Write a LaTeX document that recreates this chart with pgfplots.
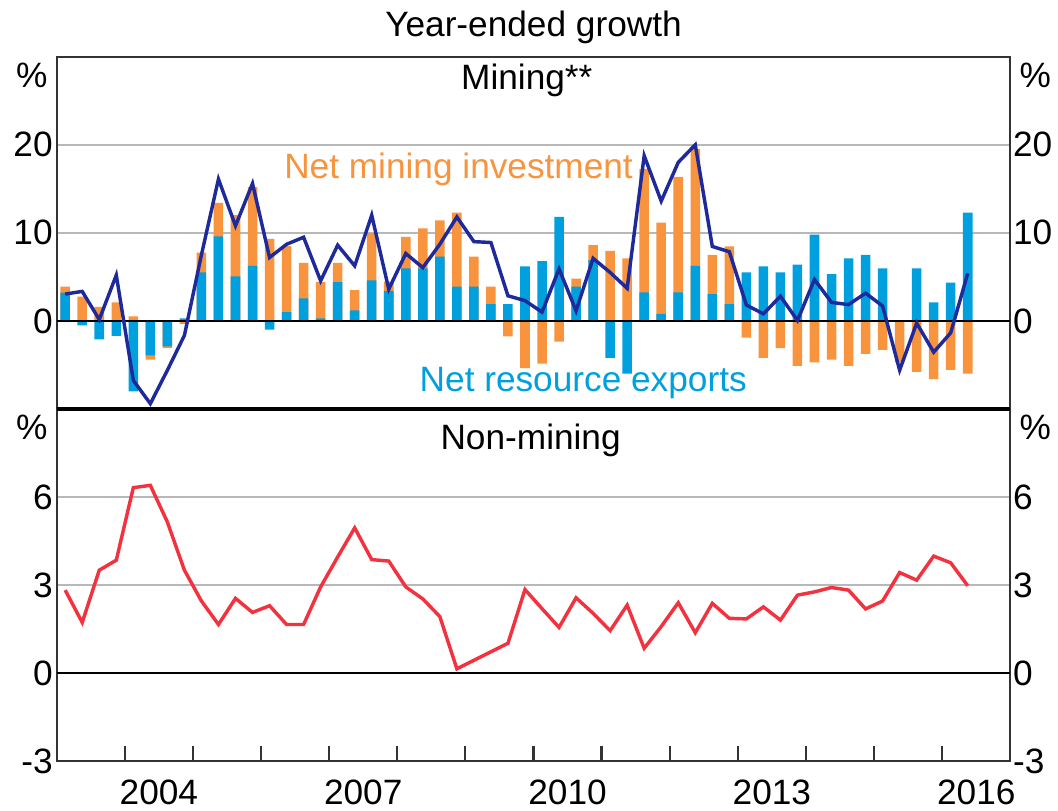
\documentclass[border=0pt]{standalone}
\usepackage{fontspec}
\setmainfont{Liberation Sans}
\usepackage{pgfplots}
\usepackage{pgfplotstable}
\pgfplotsset{compat=1.18}

\definecolor{minvest}{HTML}{F7943D}
\definecolor{mexport}{HTML}{00A0DF}
\definecolor{mline}{HTML}{1F2A9A}
\definecolor{nmline}{HTML}{F2333F}
\definecolor{gridgray}{HTML}{B8B8B8}
\newcommand\chartfont{\fontsize{13.3}{15}\selectfont}

% quarterly, year-ended growth; orange/blue = bar extents of each component
\pgfplotstableread{
date     orange blue  mining nonmining
2003.125  3.9   3.2    3.05  2.83
2003.375  2.75 -0.5    3.35  1.73
2003.625  1.6  -2.1    0.15  3.51
2003.875  2.1  -1.7    5.2   3.85
2004.125  0.5  -8.0   -6.75  6.32
2004.375 -4.4  -3.9   -9.4   6.40
2004.625 -3.1  -2.9   -5.6   5.15
2004.875 -0.35  0.3   -1.65  3.51
2005.125  7.75  5.5    7.5   2.46
2005.375 13.4   9.6   16.1   1.66
2005.625 12.0   5.05  10.8   2.55
2005.875 15.2   6.25  15.6   2.07
2006.125  9.3  -1.0    7.2   2.30
2006.375  8.5   1.0    8.7   1.66
2006.625  6.6   2.55   9.5   1.66
2006.875  4.4   0.3    4.55  2.94
2007.125  6.6   4.4    8.6   3.96
2007.375  3.5   1.2    6.25  4.95
2007.625 10.0   4.6   12.0   3.87
2007.875  4.45  3.4    3.6   3.82
2008.125  9.55  5.95   7.65  2.94
2008.375 10.5   5.95   6.05  2.53
2008.625 11.4   7.3    8.7   1.93
2008.875 12.3   3.9   11.8   0.15
2009.125  7.3   3.9    9.0   0.44
2009.375  3.9   1.9    8.9   0.73
2009.625 -1.75  1.9    2.85  1.02
2009.875 -5.35  6.2    2.3   2.85
2010.125 -4.85  6.8    1.0   2.20
2010.375 -2.35 11.8    5.9   1.56
2010.625  4.8   3.9    1.15  2.57
2010.875  8.6   6.9    7.1   2.04
2011.125  7.95 -4.2    5.5   1.45
2011.375  7.1  -6.0    3.7   2.32
2011.625 17.25  3.25  18.75  0.85
2011.875 11.15  0.8   13.6   1.59
2012.125 16.35  3.25  18.0   2.40
2012.375 19.5   6.25  20.0   1.38
2012.625  7.5   3.05   8.45  2.38
2012.875  8.45  1.9    7.85  1.87
2013.125 -1.9   5.5    1.8   1.85
2013.375 -4.2   6.2    0.8   2.26
2013.625 -3.1   5.5    2.8   1.81
2013.875 -5.1   6.4    0.05  2.66
2014.125 -4.7   9.8    4.7   2.77
2014.375 -4.4   5.3    2.1   2.92
2014.625 -5.1   7.1    1.85  2.83
2014.875 -3.75  7.5    3.15  2.19
2015.125 -3.3   5.95   1.7   2.46
2015.375 -4.7   0.0   -5.6   3.43
2015.625 -5.8   5.95  -0.25  3.17
2015.875 -6.6   2.1   -3.55  3.99
2016.125 -5.55  4.35  -1.35  3.76
2016.375 -6.0  12.3    5.4   2.98
}\gdp

\pgfplotsset{
  panel/.style={
    scale only axis, width=360pt, height=133pt,
    xmin=2003, xmax=2017,
    axis line style={black!80, line width=0.8pt},
    ymajorgrids, major grid style={gridgray, line width=0.6pt},
    ytick style={draw=none},
    tick label style={font=\chartfont},
    yticklabel style={xshift=2pt},
  },
  twin/.style={
    scale only axis, width=360pt, height=133pt,
    xmin=2003, xmax=2017,
    hide x axis, axis y line*=right,
    y axis line style={draw=none}, ytick style={draw=none},
    tick label style={font=\chartfont},
    yticklabel style={xshift=-2.5pt},
  },
  bars/.style={ybar, bar width=3.6pt, bar shift=0pt, draw=none},
}

\begin{document}
\begin{tikzpicture}
% ---- Mining ----
\begin{axis}[panel, at={(0,133pt)}, ymin=-10, ymax=30,
    ytick={0,10,20}, yticklabels={0,10,20}, xtick=\empty]
\addplot[bars, fill=minvest] table[x=date, y=orange]{\gdp};
\addplot[bars, fill=mexport] table[x=date, y=blue]{\gdp};
\draw[black, line width=0.6pt] (rel axis cs:0,0.25) -- (rel axis cs:1,0.25);
\addplot[mline, line width=1.3pt, mark=none] table[x=date, y=mining]{\gdp};
\node[font=\chartfont, text=minvest] at (axis cs:2008.9,17.2) {Net mining investment};
\node[font=\chartfont, text=mexport] at (axis cs:2010.73,-7.1) {Net resource exports};
\node[font=\chartfont, anchor=north] at ([yshift=0.8pt]rel axis cs:0.493,1) {Mining**};
\coordinate (tl) at (rel axis cs:0,1);
\coordinate (tr) at (rel axis cs:1,1);
\coordinate (ml) at (rel axis cs:0,0);
\coordinate (mr) at (rel axis cs:1,0);
\coordinate (ttl) at (rel axis cs:0.5,1);
\end{axis}
\begin{axis}[twin, at={(0,133pt)}, ymin=-10, ymax=30,
    ytick={0,10,20}, yticklabels={0,10,20}]
\end{axis}

% ---- Non-mining ----
\begin{axis}[panel, at={(0,0)}, ymin=-3, ymax=9,
    ytick={-3,0,3,6}, yticklabels={-3,0,3,6},
    xtick={2004,...,2016}, xticklabels={},
    xtick pos=bottom, xtick align=inside,
    x tick style={black!80, line width=0.8pt}, major tick length=5.6pt,
    extra x ticks={2004.5,2007.5,2010.5,2013.5,2016.5},
    extra x tick labels={2004,2007,2010,2013,2016},
    extra x tick style={major tick length=0pt},
    xticklabel style={yshift=-3.5pt}]
\draw[black, line width=0.6pt] (rel axis cs:0,0.25) -- (rel axis cs:1,0.25);
\addplot[nmline, line width=1.3pt, mark=none] table[x=date, y=nonmining]{\gdp};
\node[font=\chartfont, anchor=north] at ([yshift=-2pt]rel axis cs:0.497,1) {Non-mining};
\coordinate (bl) at (rel axis cs:0,0);
\coordinate (bt) at (rel axis cs:0,1);
\coordinate (btr) at (rel axis cs:1,1);
\end{axis}
\begin{axis}[twin, at={(0,0)}, ymin=-3, ymax=9,
    ytick={-3,0,3,6}, yticklabels={-3,0,3,6}]
\end{axis}

% panel divider, units and subtitle
\draw[black, line width=1.4pt] (ml) -- (mr);
\node[font=\chartfont, anchor=east] at ([xshift=0pt,yshift=-7pt]tl) {\%};
\node[font=\chartfont, anchor=west] at ([xshift=0pt,yshift=-7pt]tr) {\%};
\node[font=\chartfont, anchor=east] at ([xshift=0pt,yshift=-7pt]bt) {\%};
\node[font=\chartfont, anchor=west] at ([xshift=0pt,yshift=-7pt]btr) {\%};
\node[font=\chartfont] at ([yshift=11pt]ttl) {Year-ended growth};

\pgfresetboundingbox
\path ([xshift=-21.4pt,yshift=-18.75pt]bl) rectangle ([xshift=18pt,yshift=21.4pt]tr);
\end{tikzpicture}
\end{document}
